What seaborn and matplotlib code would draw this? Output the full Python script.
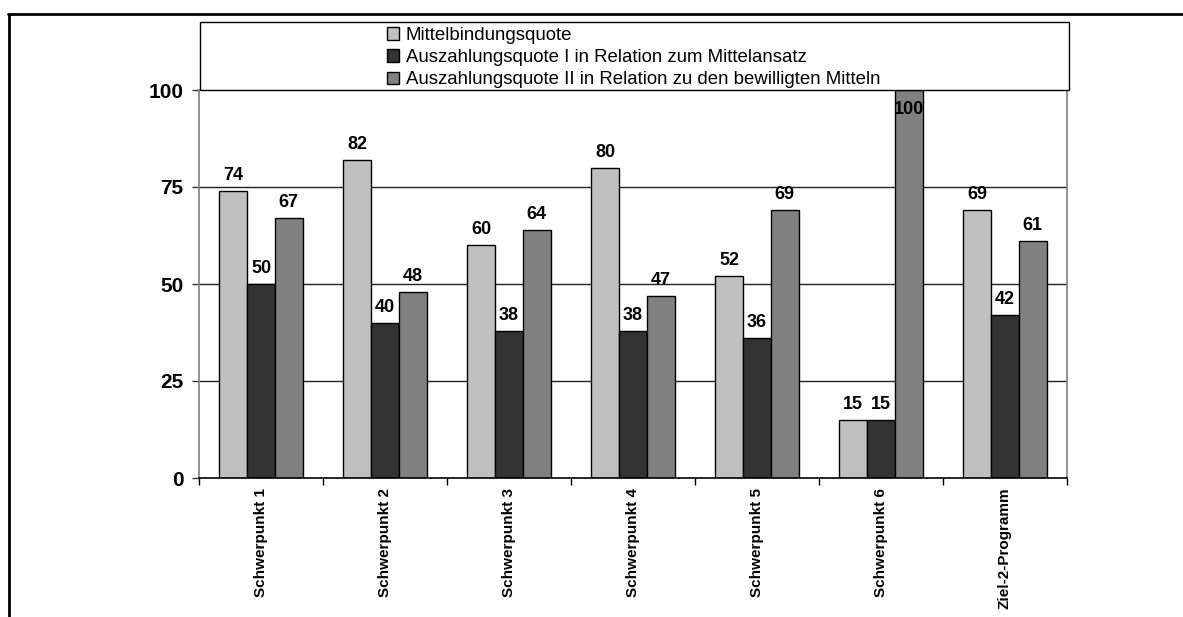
import matplotlib
matplotlib.use("Agg")
import matplotlib.pyplot as plt
import seaborn as sns
import pandas as pd
from matplotlib.lines import Line2D
from matplotlib.patches import Rectangle, Patch

categories = ["Schwerpunkt 1", "Schwerpunkt 2", "Schwerpunkt 3", "Schwerpunkt 4",
              "Schwerpunkt 5", "Schwerpunkt 6", "Ziel-2-Programm"]
series_names = ["Mittelbindungsquote",
                "Auszahlungsquote I in Relation zum Mittelansatz",
                "Auszahlungsquote II in Relation zu den bewilligten Mitteln"]
mittelbindung = [74, 82, 60, 80, 52, 15, 69]
auszahlung_1 = [50, 40, 38, 38, 36, 15, 42]
auszahlung_2 = [67, 48, 64, 47, 69, 100, 61]
colors = ["#C0C0C0", "#333333", "#808080"]
yticks = [0, 25, 50, 75, 100]

sns.set_theme(style="white")
plt.rcParams["font.family"] = ["Liberation Sans", "DejaVu Sans"]
plt.rcParams["text.color"] = "black"
plt.rcParams["xtick.color"] = "black"
plt.rcParams["ytick.color"] = "black"

rows = []
for name, vals in zip(series_names, [mittelbindung, auszahlung_1, auszahlung_2]):
    for c, v in zip(categories, vals):
        rows.append({"Kategorie": c, "Serie": name, "Wert": v})
df = pd.DataFrame(rows)

W, H = 1183, 617
fig = plt.figure(figsize=(W / 100, H / 100), dpi=100)
ax = fig.add_axes([199 / W, 1 - 478 / H, (1067 - 199) / W, (478 - 90) / H])

sns.barplot(data=df, x="Kategorie", y="Wert", hue="Serie", order=categories,
            hue_order=series_names, palette=colors, width=0.67,
            edgecolor="black", linewidth=1.0, saturation=1, ax=ax, legend=False)

ax.set_xlim(-0.5, len(categories) - 0.5)
ax.set_ylim(0, 100)
ax.set_yticks(yticks)
ax.set_yticklabels([str(t) for t in yticks], fontsize=15, fontweight="bold", color="black")
ax.set_xlabel("")
ax.set_ylabel("")
ax.set_xticks(range(len(categories)))
ax.set_xticklabels(categories, rotation=90, fontsize=11, fontweight="bold", color="black")
ax.set_xticks([i - 0.5 for i in range(len(categories) + 1)], minor=True)
ax.tick_params(axis="x", which="major", length=0, pad=7)
ax.tick_params(axis="x", which="minor", length=5, width=1, color="black", direction="out", bottom=True)
ax.tick_params(axis="y", length=5, width=1, color="#333333", direction="out", pad=6, left=True)

for t in [25, 50, 75]:
    ax.axhline(t, color="#222222", lw=1, zorder=0.5)

for side in ["top", "right", "left"]:
    ax.spines[side].set_color("#808080")
    ax.spines[side].set_linewidth(1.2)
ax.spines["bottom"].set_color("black")
ax.spines["bottom"].set_linewidth(1.2)

for cont in ax.containers:
    for bar in cont:
        h = bar.get_height()
        xc = bar.get_x() + bar.get_width() / 2
        if h >= 95:
            ax.annotate(f"{h:.0f}", (xc, 100), xytext=(0, -8), textcoords="offset points",
                        ha="center", va="top", fontsize=13, fontweight="bold",
                        color="black", clip_on=False)
        else:
            ax.annotate(f"{h:.0f}", (xc, h), xytext=(0, 5), textcoords="offset points",
                        ha="center", va="bottom", fontsize=13, fontweight="bold",
                        color="black")

# legend box
fig.patches.append(Rectangle((200 / W, 1 - 90 / H), (1069 - 200) / W, (90 - 22) / H,
                             transform=fig.transFigure, facecolor="white",
                             edgecolor="black", lw=1.0, zorder=5))
handles = [Patch(facecolor=c, edgecolor="black", lw=1.0) for c in colors]
leg = fig.legend(handles, series_names, loc="upper left",
                 bbox_to_anchor=(387 / W, 1 - 27 / H), frameon=False, fontsize=13.4,
                 handlelength=0.65, handleheight=0.65, handletextpad=0.35,
                 labelspacing=0.28, borderpad=0, borderaxespad=0)
for txt in leg.get_texts():
    txt.set_color("black")
leg.set_zorder(6)

# outer border (top and left)
fig.add_artist(Line2D([8 / W, 1.0], [1 - 13.5 / H, 1 - 13.5 / H], transform=fig.transFigure,
                      color="black", lw=2))
fig.add_artist(Line2D([8.5 / W, 8.5 / W], [1 - 13.5 / H, 0], transform=fig.transFigure,
                      color="black", lw=2))

fig.savefig("out.png", dpi=100)
